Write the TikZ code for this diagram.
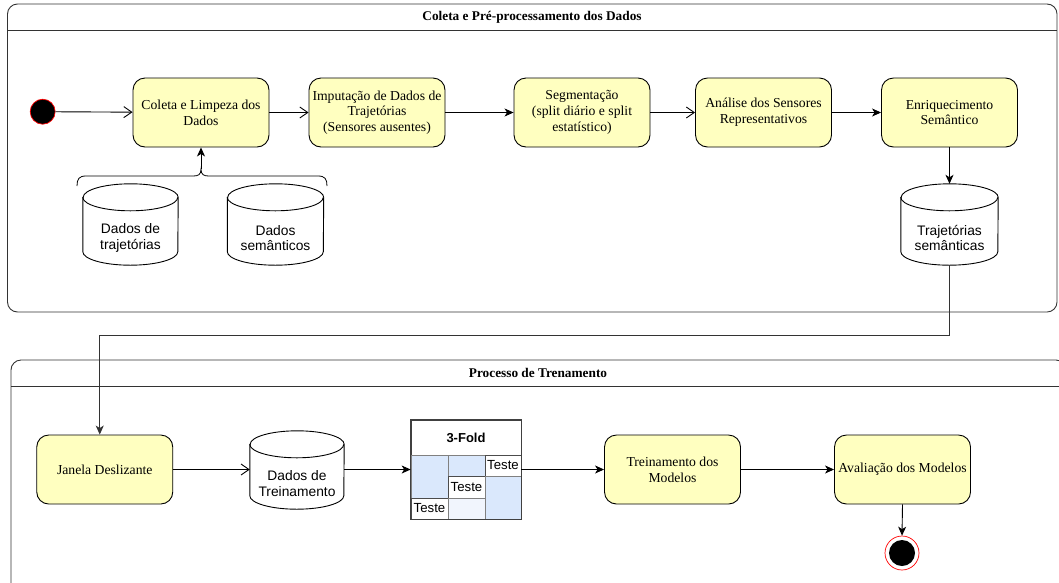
\documentclass[tikz,border=0pt]{standalone}
\usepackage{fontspec}
\setmainfont{Liberation Serif}
\setsansfont{Liberation Sans}
\usetikzlibrary{arrows.meta,calc}

\definecolor{actfill}{HTML}{FFFFC0}
\definecolor{foldblue}{HTML}{DAE8FC}
\definecolor{foldlight}{HTML}{F1F5FD}
\definecolor{framecol}{HTML}{333333}

\tikzset{
  act/.style={draw=black, fill=actfill, rounded corners=12pt, minimum width=136pt,
    minimum height=69pt, align=center, inner sep=1pt, line width=0.9pt,
    font=\fontsize{13.7}{15.8}\selectfont},
  cylbox/.style={inner sep=0pt, align=center, font=\sffamily\fontsize{13.8}{15.5}\selectfont},
  openarr/.style={-{Straight Barb[length=8pt,width=11pt]}, line width=0.9pt},
  fillarr/.style={-{Stealth[length=9pt,width=8pt,inset=2.5pt]}, line width=0.9pt},
  lane/.style={draw=framecol, rounded corners=10pt, line width=0.9pt},
  lanetitle/.style={font=\bfseries\fontsize{13.3}{15}\selectfont},
  cell/.style={draw=gray, line width=0.6pt, inner sep=0pt, font=\sffamily\fontsize{13.2}{14}\selectfont},
}

\newcommand\cylshape[3]{%
  \draw[line width=0.9pt] ($(#1.north west)+(0,#3)$) -- ($(#1.south west)+(0,#3)$)
    arc[start angle=180,end angle=360,x radius=#2,y radius=#3]
    -- ($(#1.north east)+(0,#3)$)
    arc[start angle=0,end angle=180,x radius=#2,y radius=#3] -- cycle;
  \draw[line width=0.9pt] ($(#1.north west)+(0,#3)$)
    arc[start angle=180,end angle=360,x radius=#2,y radius=#3];}

\begin{document}
\begin{tikzpicture}[x=1pt,y=1pt]
\useasboundingbox (0,0) rectangle (1059,-582);

% ---- lane 1
\draw[lane] (7.5,-4) rectangle (1057,-312);
\draw[draw=framecol, line width=0.9pt] (7.5,-30) -- (1057,-30);
\node[lanetitle] (t1) at (532,-17) {Coleta e Pré-processamento dos Dados};

% ---- lane 2
\draw[lane] (11,-360) rectangle (1066,-600);
\draw[draw=framecol, line width=0.9pt] (11,-386) -- (1066,-386);
\node[lanetitle] (t2) at (538,-373) {Processo de Trenamento};

% ---- start
\node[circle, fill=black, draw=red, line width=0.7pt, minimum size=25pt, inner sep=0pt] (start) at (42.7,-111.7) {};

% ---- activities lane 1
\node[act] (b1) at (201,-112.5) {Coleta e Limpeza dos\\Dados};
\node[act] (b2) at (377,-112.5) {Imputação de Dados de\\Trajetórias\\(Sensores ausentes)};
\node[act] (b3) at (582,-112.5) {Segmentação\\(split diário e split\\estatístico)};
\node[act] (b4) at (763.5,-112.5) {Análise dos Sensores\\Representativos};
\node[act] (b5) at (949.5,-112.5) {Enriquecimento\\Semântico};

% ---- cylinders lane 1
\node[cylbox, minimum width=95pt, minimum height=54pt] (c1) at (130.5,-238) {Dados de\\trajetórias};
\cylshape{c1}{47.5}{13.5}
\node[cylbox, minimum width=96pt, minimum height=54pt] (c2) at (275.5,-238) {Dados\\semânticos};
\cylshape{c2}{48}{13.5}
\node[cylbox, minimum width=97pt, minimum height=54pt] (c3) at (949.5,-238) {Trajetórias\\semânticas};
\cylshape{c3}{48.5}{13.5}

% ---- brace
\coordinate (bt) at (201,-169);
\draw[line width=0.8pt] (77,-186) .. controls (77,-179) and (79,-176) .. (86,-176)
  -- (193,-176) .. controls (198,-176) and (201,-175) .. (bt)
  .. controls (201,-175) and (204,-176) .. (209,-176)
  -- (318,-176) .. controls (325,-176) and (327,-179) .. (327,-186);

% ---- arrows lane 1
\draw[openarr] (start) -- (b1);
\draw[fillarr] (bt) -- (b1.south);
\draw[openarr] (b1) -- (b2);
\draw[fillarr] (b2) -- (b3);
\draw[openarr] (b3) -- (b4);
\draw[fillarr] (b4) -- (b5);
\draw[fillarr] (b5.south) -- ($(c3.north)+(0,27)$);

% ---- lane 2 nodes
\node[act] (jan) at (104.75,-469.5) {Janela Deslizante};
\node[cylbox, minimum width=94pt, minimum height=51pt] (dt) at (297,-483.5) {Dados de\\Treinamento};
\cylshape{dt}{47}{13.5}

% 3-fold table
\node[draw=black!75, line width=0.7pt, minimum width=110pt, minimum height=99pt, inner sep=0pt] (tbl) at (466,-469.5) {};
\node[draw=black!75, line width=0.7pt, minimum width=110pt, minimum height=35pt, inner sep=0pt,
  font=\sffamily\bfseries\fontsize{13}{15}\selectfont] (hdr) at (466,-437.5) {3-Fold};
\node[cell, fill=foldblue, minimum width=37pt, minimum height=43pt] (f11) at (429.5,-476.5) {};
\node[cell, fill=foldblue, minimum width=37pt, minimum height=21pt] (f12) at (466.5,-465.5) {};
\node[cell, fill=white, draw=black!70, minimum width=36pt, minimum height=21pt] (f13) at (503,-465.5) {Teste};
\node[cell, fill=white, draw=black!70, minimum width=37pt, minimum height=22pt] (f22) at (466.5,-487) {Teste};
\node[cell, fill=foldblue, minimum width=36pt, minimum height=43pt] (f23) at (503,-497.5) {};
\node[cell, fill=white, draw=black!70, minimum width=37pt, minimum height=21pt] (f31) at (429.5,-508.5) {Teste};
\node[cell, fill=foldlight, minimum width=37pt, minimum height=21pt] (f32) at (466.5,-508.5) {};
\draw[draw=black!75, line width=0.7pt] (tbl.north west) rectangle (tbl.south east);

\node[act] (tr) at (672.5,-469.5) {Treinamento dos\\Modelos};
\node[act] (av) at (902.5,-469.5) {Avaliação dos Modelos};

\node[circle, draw=red, line width=0.7pt, minimum size=34pt, inner sep=0pt] (endc) at (902,-553) {};
\fill[black] (endc.center) circle (13);

% ---- arrows lane 2
\draw[fillarr, draw=framecol] (c3.south) -- ++(0,-70) -| ($(jan.north)+(-5,0)$);
\draw[openarr] (jan.east) -- (jan.east -| dt.west);
\draw[fillarr] (jan.east -| dt.east) -- (jan.east -| tbl.west);
\draw[fillarr] (jan.east -| tbl.east) -- (tr.west);
\draw[fillarr] (tr) -- (av);
\draw[fillarr] (av.south) -- (endc.north);
\end{tikzpicture}
\end{document}
